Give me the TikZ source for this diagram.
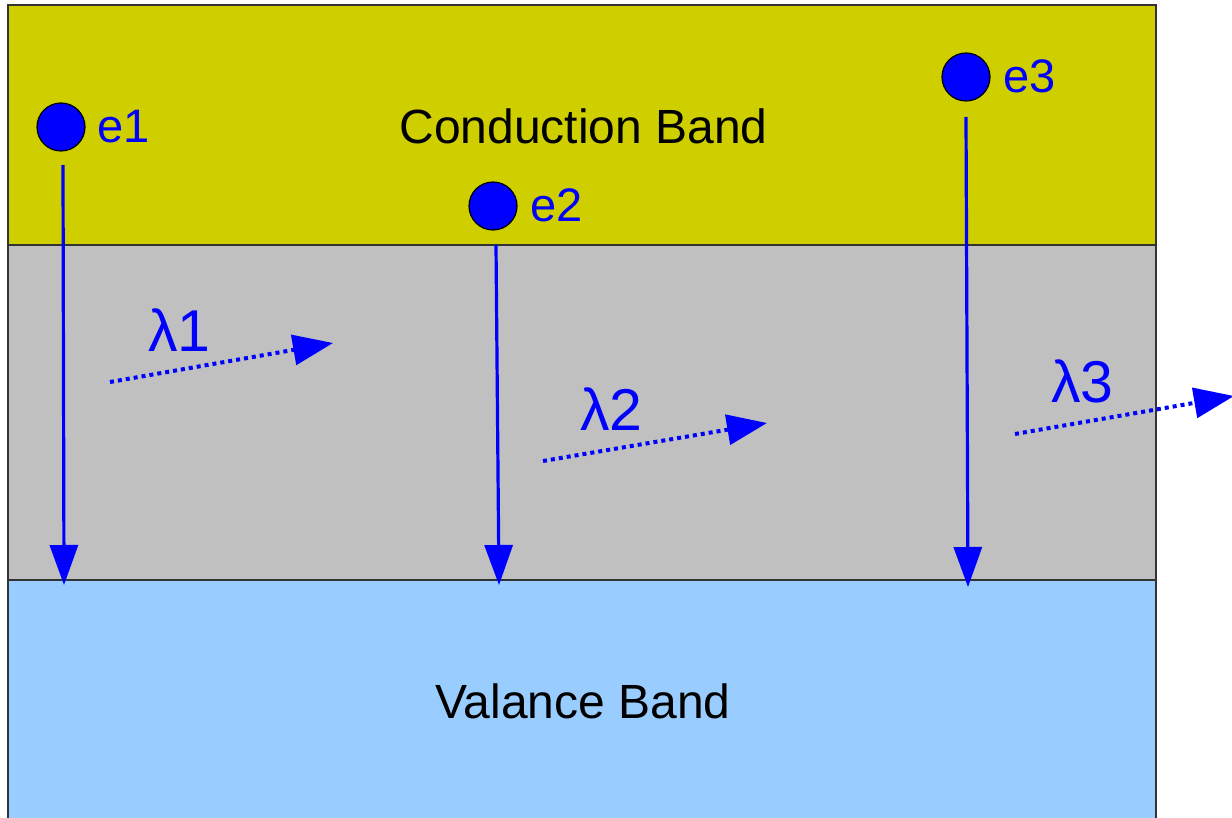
\documentclass[tikz,border=0pt]{standalone}
\usepackage{fontspec}
\setmainfont{Liberation Sans}
\usetikzlibrary{arrows.meta}
\definecolor{cband}{RGB}{207,207,0}
\definecolor{gapgray}{RGB}{192,192,192}
\definecolor{vband}{RGB}{153,204,255}
\definecolor{edge}{RGB}{51,51,51}
\tikzset{
  bandbox/.style={draw=edge, line width=0.6pt},
  electron/.style={circle, fill=blue, draw=black, line width=0.6pt, minimum size=24pt, inner sep=0pt},
  bandlabel/.style={anchor=base west, inner sep=0pt, font=\fontsize{24}{28}\selectfont, text=black},
  elabel/.style={anchor=base west, inner sep=0pt, font=\fontsize{23.5}{28}\selectfont, text=blue},
  llabel/.style={anchor=base west, inner sep=0pt, font=\fontsize{29.5}{34}\selectfont, text=blue},
  fall/.style={draw=blue, line width=1.6pt, -{Triangle[length=20pt,width=14pt]}},
  photon/.style={draw=blue, line width=2pt, dash pattern=on 2pt off 2pt, -{Triangle[length=20pt,width=15pt]}}
}
\begin{document}
\begin{tikzpicture}[x=0.5pt,y=-0.5pt]
\useasboundingbox (0,0) rectangle (1232,818);
% bands
\fill[vband] (8,580) rectangle (1156,830);
\draw[edge, line width=0.6pt] (8,830) -- (8,580) -- (1156,580) -- (1156,830);
\filldraw[bandbox, fill=gapgray] (8,245) rectangle (1156,580);
\filldraw[bandbox, fill=cband] (8,5) rectangle (1156,245);
% band labels
\node[bandlabel] (cb) at (399,144) {Conduction Band};
\node[bandlabel] (vb) at (435,718) {Valance Band};
% electrons
\node[electron] (e1c) at (61,127) {};
\node[electron] (e2c) at (493,206) {};
\node[electron] (e3c) at (966,77) {};
\node[elabel] (e1l) at (97,143) {e1};
\node[elabel] (e2l) at (530,222) {e2};
\node[elabel] (e3l) at (1003,93) {e3};
% fall arrows
\coordinate (s1) at (63,165);
\coordinate (t1) at (64,585);
\coordinate (s2) at (496,245);
\coordinate (t2) at (499,585);
\coordinate (s3) at (966,117);
\coordinate (t3) at (968,587);
\draw[fall] (s1) -- (t1);
\draw[fall] (s2) -- (t2);
\draw[fall] (s3) -- (t3);
% photons
\coordinate (p1s) at (110,382);
\coordinate (p1t) at (333,343);
\coordinate (p2s) at (543,461);
\coordinate (p2t) at (767,423);
\coordinate (p3s) at (1015,434);
\coordinate (p3t) at (1234,396);
\draw[photon] (p1s) -- (p1t);
\draw[photon] (p2s) -- (p2t);
\draw[photon] (p3s) -- (p3t);
\node[llabel] (l1) at (148,351) {λ1};
\node[llabel] (l2) at (580,430) {λ2};
\node[llabel] (l3) at (1051,402) {λ3};
\end{tikzpicture}
\end{document}
